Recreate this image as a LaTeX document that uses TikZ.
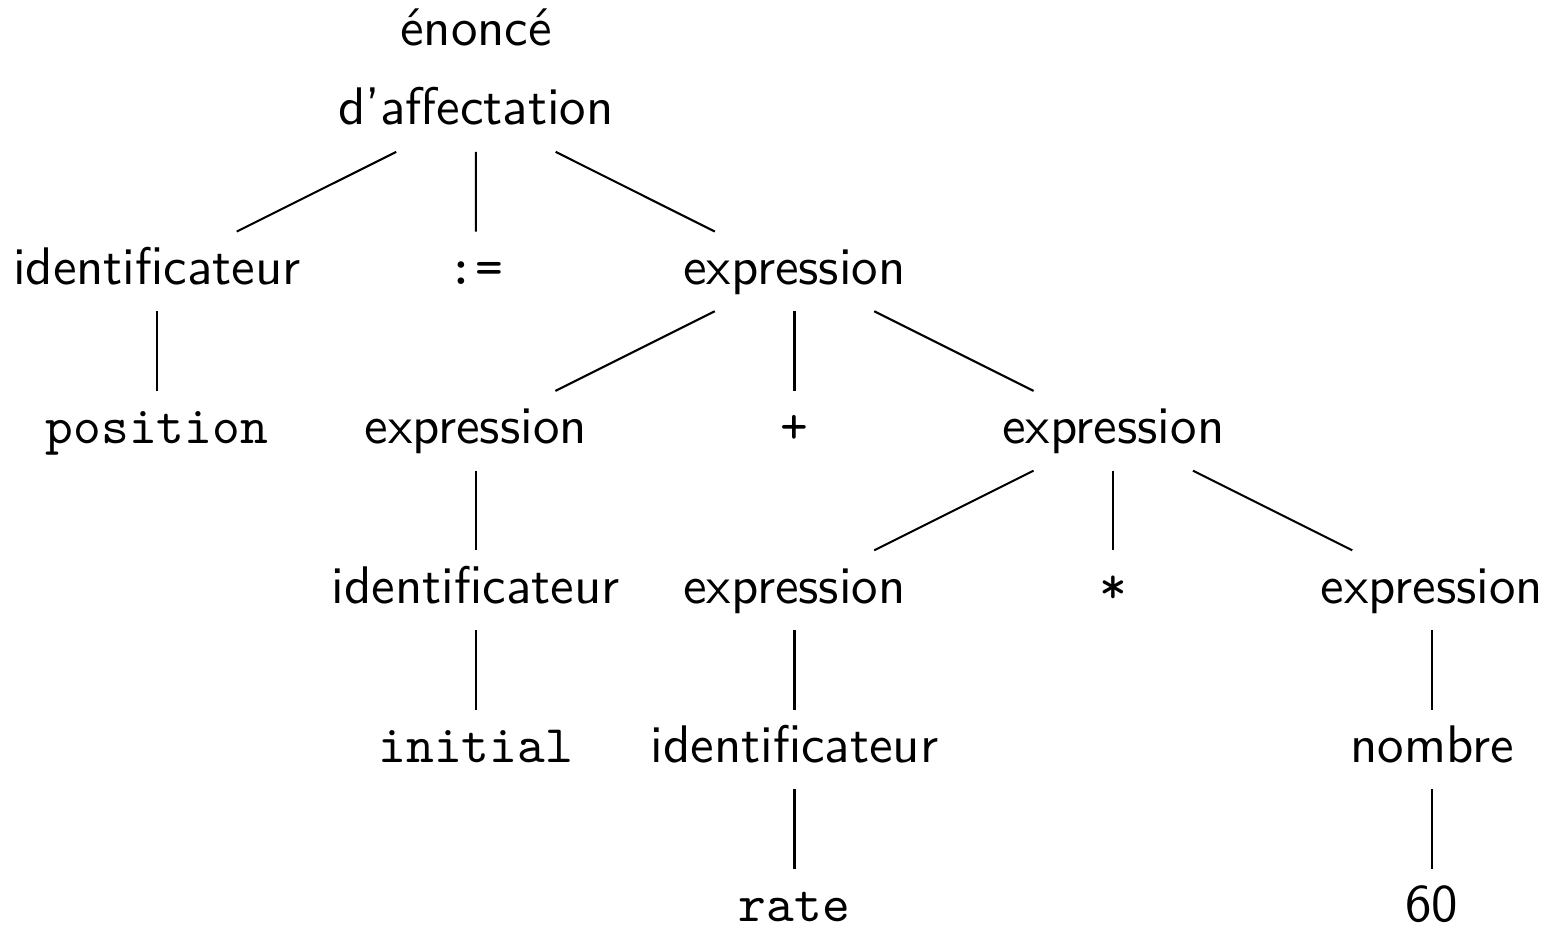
\documentclass[tikz,border=0pt]{standalone}
\usetikzlibrary{calc}
\tikzset{
  lbl/.style={anchor=base, inner sep=0pt, font=\sffamily\fontsize{10.1}{12}\selectfont},
  tok/.style={anchor=base, inner sep=0pt, font=\ttfamily\fontsize{10.1}{12}\selectfont},
  branch/.style={line width=0.4pt, black}
}
\newcommand{\treeedge}[2]{\draw[branch] ($(#1.base)!0.25!(#2.base)+(0,-13)$) -- ($(#1.base)!0.75!(#2.base)+(0,-13)$);}
\begin{document}
\begin{tikzpicture}[x=0.191pt, y=-0.191pt]
\useasboundingbox (0,0) rectangle (1551,926);
% root
\node[lbl] (roottop) at (476,45) {énoncé};
\node[lbl] (root) at (476,125) {d’affectation};
% level 1
\node[lbl] (id1) at (157,284.4) {identificateur};
\node[tok] (assign) at (475.75,284.4) {:=};
\node[lbl] (e1) at (794.5,284.4) {expression};
% level 2
\node[tok] (pos) at (157,443.8) {position};
\node[lbl] (e2) at (475.75,443.8) {expression};
\node[tok] (plus) at (794.5,443.8) {+};
\node[lbl] (e3) at (1113.25,443.8) {expression};
% level 3
\node[lbl] (id2) at (475.75,603.2) {identificateur};
\node[lbl] (e4) at (794.5,603.2) {expression};
\node[tok] (times) at (1113.25,603.2) {*};
\node[lbl] (e5) at (1432,603.2) {expression};
% level 4
\node[tok] (init) at (475.75,762.6) {initial};
\node[lbl] (id3) at (794.5,762.6) {identificateur};
\node[lbl] (nombre) at (1432,762.6) {nombre};
% level 5
\node[tok] (rate) at (794.5,922) {rate};
\node[lbl] (sixty) at (1432,922) {60};
% edges
\treeedge{root}{id1}
\treeedge{root}{assign}
\treeedge{root}{e1}
\treeedge{id1}{pos}
\treeedge{e1}{e2}
\treeedge{e1}{plus}
\treeedge{e1}{e3}
\treeedge{e2}{id2}
\treeedge{id2}{init}
\treeedge{e3}{e4}
\treeedge{e3}{times}
\treeedge{e3}{e5}
\treeedge{e4}{id3}
\treeedge{id3}{rate}
\treeedge{e5}{nombre}
\treeedge{nombre}{sixty}
\end{tikzpicture}
\end{document}
